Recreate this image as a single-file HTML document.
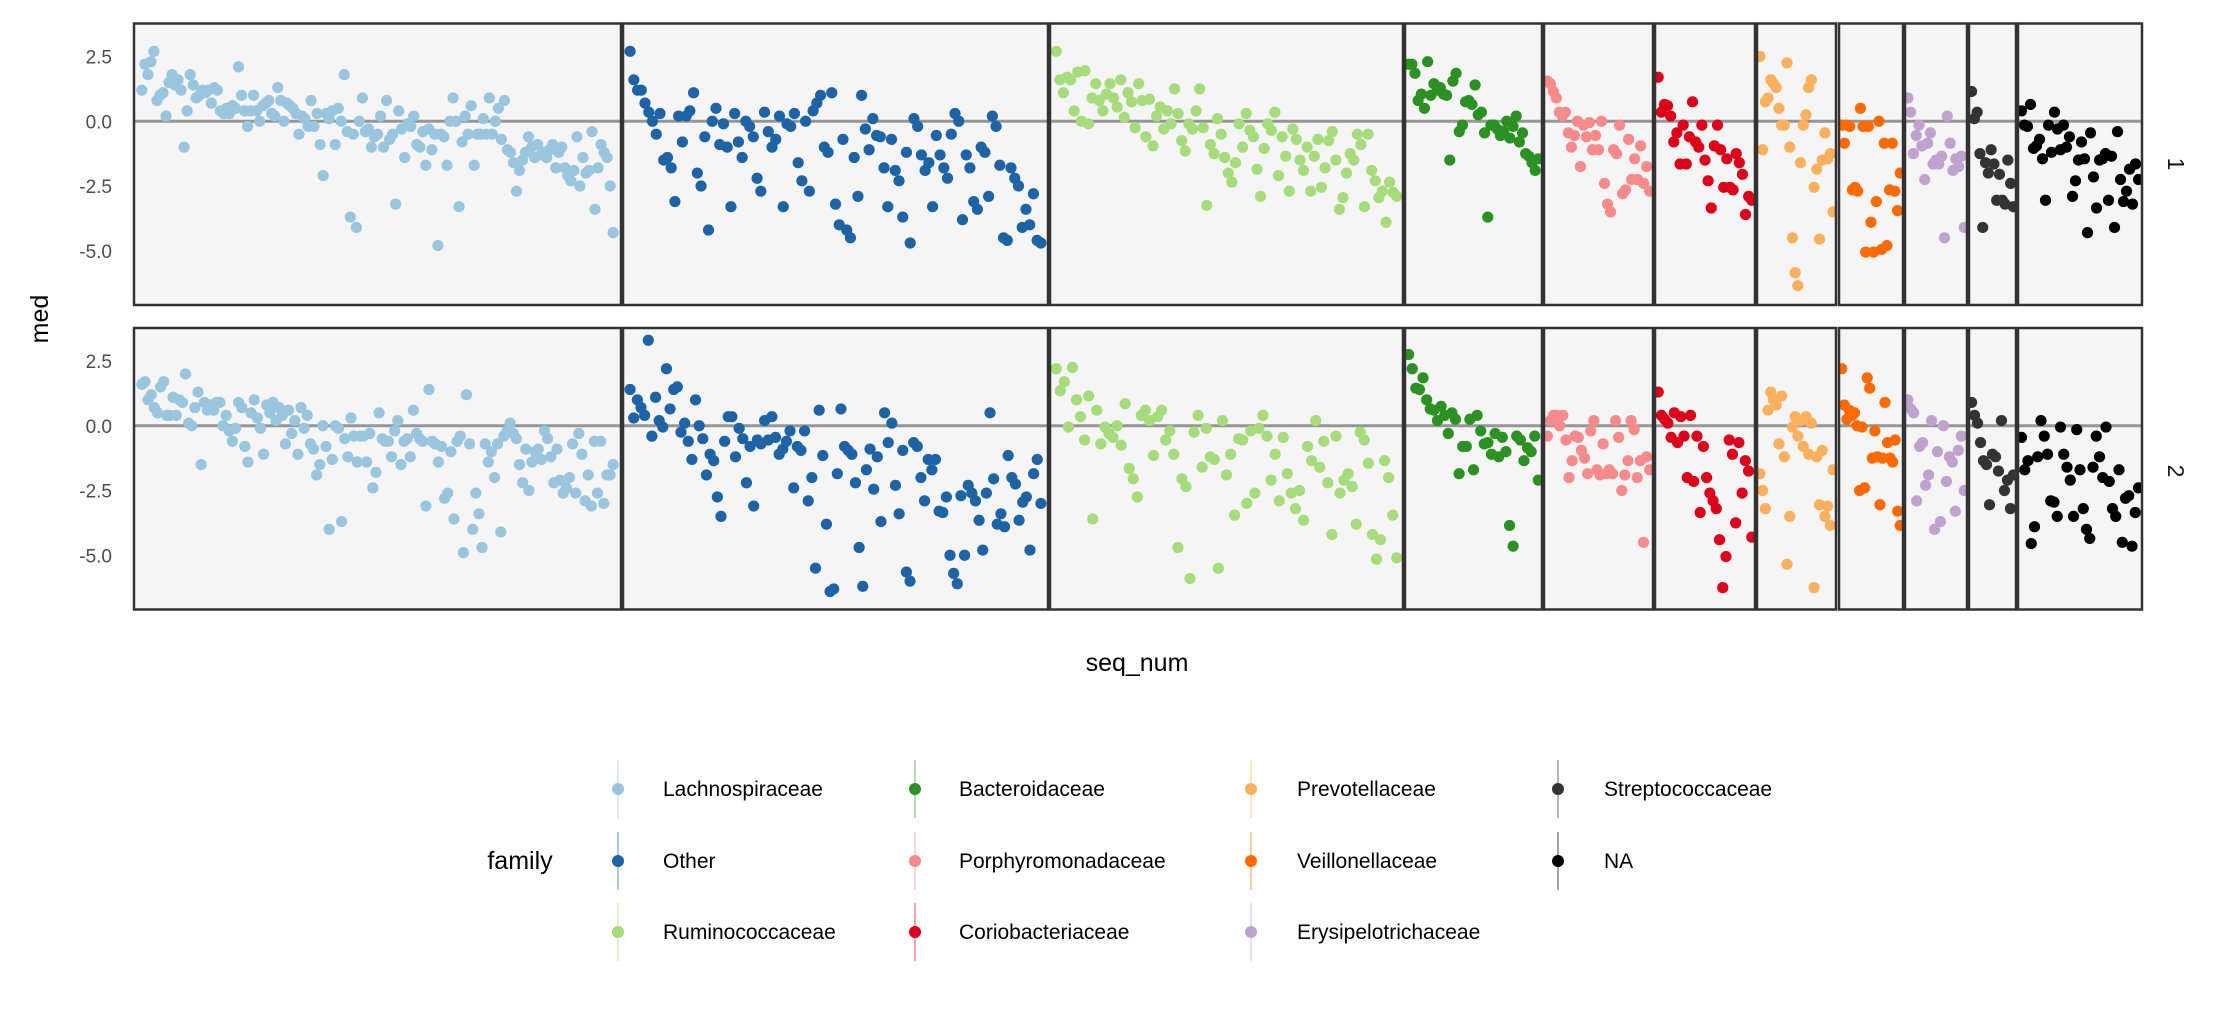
<!DOCTYPE html>
<html><head><meta charset="utf-8"><style>
html,body{margin:0;padding:0;background:#fff;}
svg{display:block;font-family:"Liberation Sans",sans-serif;}
</style></head><body>
<svg id="chart" width="2235" height="1011" viewBox="0 0 2235 1011" xmlns="http://www.w3.org/2000/svg">
<g id="panels"></g>
<g id="yaxes"></g>
<text x="0" y="0" transform="translate(48,319) rotate(-90)" text-anchor="middle" font-size="25" fill="#000">med</text>
<text x="1137" y="671" text-anchor="middle" font-size="25" fill="#000">seq_num</text>
<text transform="translate(2168,164) rotate(90)" text-anchor="middle" font-size="23" fill="#1a1a1a">1</text>
<text transform="translate(2168,471) rotate(90)" text-anchor="middle" font-size="23" fill="#1a1a1a">2</text>
<g id="legend">
<text x="520" y="869" text-anchor="middle" font-size="25" fill="#000">family</text>
</g>
</svg>
<script>
const families = ["Lachnospiraceae","Other","Ruminococcaceae","Bacteroidaceae","Porphyromonadaceae","Coriobacteriaceae","Prevotellaceae","Veillonellaceae","Erysipelotrichaceae","Streptococcaceae","NA"];
const lachno1 = [1.2,2.2,1.8,2.3,2.7,0.8,1.0,1.1,0.2,1.5,1.8,1.4,1.6,1.2,-1.0,0.4,1.8,1.4,0.9,1.0,1.2,1.1,1.2,0.7,1.3,1.2,0.4,0.3,0.5,0.3,0.6,0.5,2.1,1.0,0.4,-0.2,0.4,1.0,0.4,0.0,0.6,0.7,0.8,0.3,0.2,1.3,0.8,0.0,0.7,0.6,0.5,0.3,-0.5,0.2,0.1,-0.2,0.8,-0.2,0.3,-0.9,-2.1,0.3,0.1,0.4,-0.9,0.5,0.0,1.8,-0.4,-3.7,-0.5,-4.1,0.0,0.9,-0.4,-0.3,-1.0,-0.6,-0.5,0.2,-1.0,0.8,-0.7,-0.5,-3.2,0.4,-0.3,-1.4,-0.1,-0.2,0.2,-0.9,-1.0,-0.4,-1.7,-0.3,-1.1,-0.5,-4.8,-0.5,-0.6,-1.7,0.0,0.9,0.0,-3.3,-0.8,0.2,-0.5,0.6,-1.7,-0.5,-0.5,0.1,-0.5,0.9,-0.5,0.0,0.5,-0.7,0.8,-1.1,-1.2,-1.6,-2.7,-1.9,-1.5,-1.2,-0.6,-1.0,-1.4,-0.9,-1.3,-1.2,-1.4,-1.1,-0.9,-1.8,-1.2,-1.0,-1.8,-2.1,-2.3,-1.9,-0.6,-2.5,-1.4,-2.0,-1.9,-0.4,-3.4,-1.8,-0.9,-1.2,-1.4,-2.5,-4.3];
const lachno2 = [1.6,1.7,1.0,1.2,0.7,0.5,1.5,1.7,0.4,0.4,1.1,0.4,1.0,0.9,2.0,0.1,0.0,0.7,1.3,-1.5,0.9,0.6,0.8,0.6,0.9,0.9,0.0,0.4,-0.2,-0.6,-0.1,0.9,0.7,-0.8,-1.4,0.5,1.0,0.3,-0.1,-1.1,0.8,0.5,0.9,0.2,0.7,0.4,-0.7,0.6,-0.3,0.2,-1.1,0.7,-0.1,0.4,-0.7,-0.9,-1.9,-1.5,0.0,-0.8,-4.0,-1.3,0.0,-0.1,-3.7,-0.5,-1.2,0.3,-0.4,-1.4,-0.4,-0.4,-1.4,-0.3,-2.4,-1.8,0.5,-0.5,-0.6,-0.6,-1.2,-0.2,0.2,-1.5,-0.6,-0.5,-1.2,0.6,-0.3,-0.5,-0.6,-3.1,1.4,-0.6,-0.7,-1.4,-0.8,-2.8,-2.6,-1.0,-3.6,-0.6,-0.4,-4.9,1.2,-0.7,-4.0,-2.6,-3.4,-4.7,-0.7,-1.4,-1.0,-2.0,-0.7,-4.1,-0.4,-0.2,0.1,-0.3,-0.5,-1.5,-2.2,-0.9,-2.5,-1.4,-1.0,-0.9,-1.3,-0.2,-0.5,-1.2,-2.2,-0.9,-2.1,-2.6,-2.4,-2.0,-0.7,-2.6,-0.3,-1.1,-2.9,-1.9,-3.1,-0.6,-2.6,-0.6,-3.0,-1.9,-1.9,-1.5];
const other1 = [2.7,1.6,1.2,1.2,0.7,0.35,0.0,-0.5,0.3,-1.5,-1.4,-1.8,-3.1,0.2,-0.8,0.2,0.4,1.1,-2.0,-2.5,-0.6,-4.2,0.0,0.5,-0.9,-0.1,-1.0,-3.3,0.3,-0.8,-1.4,0.0,-0.2,-0.6,-2.2,-2.7,0.35,-0.4,-1.0,-0.7,0.2,-3.3,-0.1,-0.2,0.3,-1.6,-2.3,0.0,-2.7,0.4,0.7,1.0,-1.0,-1.2,1.1,-3.2,-4.0,-0.7,-4.2,-4.5,-1.4,-2.9,1.0,-0.3,-1.1,0.1,-0.55,-0.6,-1.8,-3.3,-0.7,-1.9,-2.3,-3.7,-1.2,-4.7,0.1,-0.2,-1.3,-1.9,-1.6,-3.3,-0.55,-1.3,-1.8,-2.2,-0.5,0.3,0.0,-3.8,-1.3,-1.8,-3.1,-3.4,-1.0,-1.2,-2.9,0.2,-0.2,-1.7,-4.5,-4.6,-1.8,-2.2,-2.5,-4.1,-3.4,-4.0,-2.8,-4.6,-4.7];
const other2 = [1.4,0.3,1.0,0.7,0.4,3.3,-0.4,1.1,0.2,-0.05,2.2,0.65,1.4,1.5,-0.25,0.1,-0.6,-1.3,1.0,0.0,-0.5,-1.9,-1.1,-1.35,-2.75,-3.5,-0.6,0.35,0.35,-1.2,-0.1,-0.5,-2.2,-0.8,-3.1,-0.55,-0.7,0.2,-0.55,0.35,-0.45,-1.1,-0.9,-0.6,-0.2,-2.4,-0.8,-0.95,-0.2,-2.9,-2.0,-5.5,0.6,-1.15,-3.8,-6.4,-6.3,-1.85,0.65,-0.8,-0.95,-1.1,-2.2,-4.7,-6.2,-1.7,-0.9,-2.45,-1.2,-3.7,0.5,-0.65,0.1,-2.3,-3.4,-0.95,-5.65,-6.0,-0.65,-0.8,-2.0,-2.9,-1.3,-1.7,-1.3,-3.3,-3.35,-2.75,-5.0,-5.7,-6.1,-2.7,-5.0,-2.3,-2.6,-2.9,-3.65,-4.8,-2.6,0.5,-2.05,-3.8,-3.4,-3.9,-1.15,-2.0,-2.25,-3.65,-2.95,-2.75,-4.8,-1.85,-1.3,-3.0];
const rumino1 = [2.7,1.6,1.1,1.7,1.6,0.4,1.9,0.0,1.95,-0.1,0.9,1.45,0.8,0.4,1.05,1.45,0.9,0.55,1.6,0.15,1.1,0.75,-0.25,1.45,0.8,-0.6,0.85,-0.95,0.2,0.55,-0.3,0.4,-0.1,1.25,0.3,-0.75,-1.15,-0.1,-0.3,0.4,1.25,-0.25,-3.25,-0.9,-1.25,0.1,-0.5,-1.4,-2.0,-2.35,-1.6,-0.1,-1.0,0.3,-0.35,-0.6,-1.85,-2.9,-1.05,-0.1,-0.35,0.35,-2.1,-0.6,-1.35,-2.7,-0.3,-0.7,-1.5,-1.9,-1.0,-2.7,-1.35,-0.7,-2.55,-1.8,-0.75,-0.4,-1.5,-3.4,-2.95,-2.0,-1.25,-1.5,-0.5,-0.9,-3.3,-0.5,-1.9,-2.3,-2.95,-2.7,-3.9,-2.35,-2.75,-2.9];
const rumino2 = [2.2,1.35,1.7,-0.05,2.25,1.0,0.35,-0.55,1.15,-3.6,0.6,-0.7,-0.05,-0.3,-0.45,0.0,-0.75,0.85,-1.65,-2.05,-2.75,0.4,0.6,0.2,-1.15,0.35,0.6,-0.55,-0.2,-1.1,-4.7,-2.05,-2.35,-5.9,-0.25,0.4,-1.6,-0.1,-1.2,-1.3,-5.5,0.2,-1.9,-1.1,-3.45,-0.5,-0.55,-3.0,-0.2,-2.6,-0.1,0.4,-0.4,-2.1,-1.1,-2.9,-0.45,-1.85,-2.6,-3.2,-2.5,-3.65,-0.8,-1.35,0.2,-1.6,-0.6,-2.2,-4.2,-0.4,-2.6,-2.1,-1.85,-2.35,-3.8,-0.25,-0.55,-1.45,-4.2,-5.15,-4.4,-1.35,-2.0,-3.45,-5.1];
const bactero1 = [2.2,2.2,1.85,0.8,1.05,0.5,2.3,1.0,1.45,1.2,1.3,1.05,1.0,-1.5,1.55,1.85,-0.4,-0.15,0.75,0.8,0.65,1.4,0.25,0.35,-0.45,-3.7,-0.15,-0.15,-0.3,-0.55,-0.4,0.0,-0.65,-0.2,0.2,-0.8,-0.45,-1.25,-1.35,-1.6,-1.9,-1.45];
const bactero2 = [2.75,2.2,1.45,1.4,1.85,1.0,0.65,0.6,0.2,0.75,0.4,-0.3,0.5,0.25,-1.85,-0.8,-0.8,0.25,-1.7,0.4,-0.2,-0.7,-0.65,-1.1,-0.3,-1.2,-0.45,-1.0,-3.85,-4.65,-0.4,-0.55,-1.35,-0.85,-1.0,-0.4,-2.1];
const porph1 = [1.55,1.45,1.15,0.9,0.35,0.2,0.35,-0.45,-1.0,-0.55,0.0,-1.75,-0.15,-0.6,-0.05,-1.1,-0.55,-1.1,0.0,-2.4,-3.2,-3.5,-1.1,-1.25,-0.15,-2.8,-2.65,-0.7,-2.25,-1.45,-2.25,-0.95,-2.4,-1.75,-2.7];
const porph2 = [-0.4,0.2,0.4,0.4,0.0,0.4,-0.55,-2.0,-1.35,-0.4,-0.45,-0.95,-1.25,-1.85,-0.2,0.2,-1.7,-1.9,-0.7,-1.85,-1.7,-1.85,0.2,-0.45,-2.5,-1.9,-1.35,0.2,-0.15,-2.0,-1.35,-4.5,-1.2,-1.7];
const corio1 = [1.7,0.35,0.65,0.6,0.2,-0.8,-0.45,-1.65,-0.15,-1.65,-0.6,0.75,-0.8,-1.0,-0.15,-1.5,-2.3,-3.35,-0.95,-0.15,-1.1,-2.55,-1.45,-2.55,-2.65,-1.25,-1.6,-2.05,-3.6,-2.9,-3.05];
const corio2 = [1.3,0.4,0.25,0.1,-0.45,0.5,-0.65,0.35,-0.4,-2.0,0.4,-2.15,-0.4,-3.35,-0.8,-2.0,-2.6,-2.9,-3.2,-4.4,-6.25,-5.05,-0.55,-1.1,-3.75,-0.65,-2.6,-1.35,-1.75,-4.3];
const prevo1 = [2.5,-1.1,0.75,0.9,1.6,1.45,1.3,0.5,-0.15,-0.15,2.25,-1.0,-4.5,-5.85,-6.35,-1.6,-0.15,0.25,1.3,1.6,-2.55,-1.85,-4.55,-1.5,-0.45,-1.45,-1.25,-3.5];
const prevo2 = [-1.85,-2.5,-3.2,0.6,1.3,1.0,0.8,-0.7,1.15,-1.2,-5.35,-3.5,-0.05,0.35,-0.4,0.2,-0.8,0.35,-1.1,0.1,-6.25,-1.2,-3.05,-0.95,-3.5,-3.1,-3.85,-1.7];
const veillo1 = [-0.15,-0.85,-0.15,-0.2,-2.65,-2.55,-2.7,0.5,-0.2,-5.05,-0.2,-3.9,-5.05,-3.1,0.0,-4.95,-0.85,-4.8,-2.65,-0.85,-2.7,-3.45,-2.0];
const veillo2 = [2.2,0.8,0.25,0.6,0.4,0.5,0.0,-2.5,-0.05,-2.4,1.85,1.45,-1.25,-0.2,-1.2,-3.05,-1.25,0.9,-0.65,-1.25,-1.4,-0.55,-3.3,-3.85];
const erys1 = [0.9,0.35,-1.25,-0.55,-0.15,-0.95,-2.25,-0.85,-0.45,-1.65,-1.5,-1.65,-1.35,-4.5,0.2,-0.85,-1.9,-1.45,-1.75,-1.35,-4.1];
const erys2 = [1.0,0.65,0.5,-2.9,-0.8,-0.65,-2.3,-1.9,0.2,-4.0,-1.0,-3.7,0.0,-2.15,-1.2,-1.4,-3.3,-0.95,-0.4,-2.5];
const strep1 = [1.15,0.1,0.35,-1.25,-4.1,-1.6,-2.0,-1.1,-1.65,-3.05,-2.05,-3.05,-3.2,-1.5,-2.4,-3.3];
const strep2 = [0.9,0.4,0.1,-0.65,-1.35,-1.5,-3.05,-1.1,-1.2,-1.75,0.2,-2.5,-2.1,-3.2,-1.9];
const na1 = [0.4,-0.15,-0.2,0.65,-1.05,-0.95,-0.7,-1.45,-3.05,-0.15,-1.2,0.35,-0.3,-1.1,-0.15,-1.0,-0.6,-2.9,-2.3,-1.5,-0.8,-1.45,-4.3,-0.45,-2.15,-3.35,-1.5,-1.45,-1.25,-3.05,-1.35,-4.1,-0.4,-2.25,-3.1,-2.7,-1.85,-3.2,-1.65,-2.25];
const na2 = [-0.45,-1.7,-1.35,-4.55,-3.9,-1.2,0.2,-0.4,-1.1,-2.9,-2.95,-3.5,-0.05,-1.1,-1.6,-2.1,-3.5,-0.15,-1.7,-3.2,-4.0,-4.35,-1.6,-0.4,-1.2,-2.0,-0.05,-2.15,-3.2,-3.5,-1.7,-4.5,-2.8,-2.7,-4.65,-3.35,-2.4];
const yTicks = [2.5,0.0,-2.5,-5.0];
const yTickLabels = ["2.5","0.0","-2.5","-5.0"];

const series1 = [lachno1,other1,rumino1,bactero1,porph1,corio1,prevo1,veillo1,erys1,strep1,na1];
const series2 = [lachno2,other2,rumino2,bactero2,porph2,corio2,prevo2,veillo2,erys2,strep2,na2];
const colors = ["#9ac5de","#1d63a5","#a7dc7c","#2b9122","#f78a8a","#dc001b","#fbb05e","#ff6a00","#c0a2cf","#333333","#000000"];
const facetX = [[134,621],[623,1048],[1050,1403],[1405,1542],[1544,1653],[1655,1755],[1757,1836],[1839,1903],[1905,1967],[1969,2016],[2018,2142]];
const rows = [{top:23.5,bot:305,zero:121.25},{top:328,bot:609.5,zero:425.75}];
const PXU = 25.9;
const NS="http://www.w3.org/2000/svg";
function mk(tag,attrs,parent){const e=document.createElementNS(NS,tag);for(const k in attrs)e.setAttribute(k,attrs[k]);parent.appendChild(e);return e;}
const panels=document.getElementById('panels');
const defs=mk('defs',{},panels);
function yScale(r,v){return rows[r].zero - v*PXU;}
function xScale(f,i,n){const [a,b]=facetX[f];const w=b-a;const pad=w*0.012+2;return n<=1?(a+b)/2:a+pad+i*(w-2*pad)/(n-1);}
rows.forEach((row,r)=>{
  const data = r===0?series1:series2;
  facetX.forEach((fx,f)=>{
    const cp=mk('clipPath',{id:'c'+r+'_'+f},defs);
    mk('rect',{x:fx[0],y:row.top,width:fx[1]-fx[0],height:row.bot-row.top},cp);
    const g=mk('g',{'clip-path':'url(#c'+r+'_'+f+')'},panels);
    
    
    const bg=mk('rect',{x:fx[0],y:row.top,width:fx[1]-fx[0],height:row.bot-row.top,fill:'#f5f5f5'},g);
    
    
    const zl=mk('line',{x1:fx[0],x2:fx[1],y1:yScale(r,0),y2:yScale(r,0),stroke:'#969696','stroke-width':3},g);
    
    
    const vals=data[f];
    vals.forEach((v,i)=>{
      const c=mk('circle',{cx:xScale(f,i,vals.length),cy:yScale(r,v),r:5.6,fill:colors[f]},g);
      
      
    });
    const bd=mk('rect',{x:fx[0],y:row.top,width:fx[1]-fx[0],height:row.bot-row.top,fill:'none',stroke:'#333','stroke-width':2.5},panels);
    
    
  });
});
const yaxes=document.getElementById('yaxes');
rows.forEach((row,r)=>{
  yTicks.forEach((t,k)=>{
    const tx=mk('text',{x:112,y:yScale(r,t)+7,'text-anchor':'end','font-size':19,fill:'#4d4d4d'},yaxes);
    tx.textContent=yTickLabels[k];
    
    
  });
});
const legend=document.getElementById('legend');
const keyX=[618,915,1251,1558], labX=[663,959,1297,1604], rowY=[789,861,932];
families.forEach((name,i)=>{
  const col=Math.floor(i/3), rw=i%3;
  const g=mk('g',{},legend);
  
  
  mk('line',{x1:keyX[col],x2:keyX[col],y1:rowY[rw]-29,y2:rowY[rw]+29,stroke:colors[i],'stroke-width':1,opacity:0.7},g);
  mk('circle',{cx:keyX[col],cy:rowY[rw],r:6,fill:colors[i]},g);
  const t=mk('text',{x:labX[col],y:rowY[rw]+7,'font-size':21,fill:'#000'},g);
  t.textContent=name;
});
</script>
</body></html>
